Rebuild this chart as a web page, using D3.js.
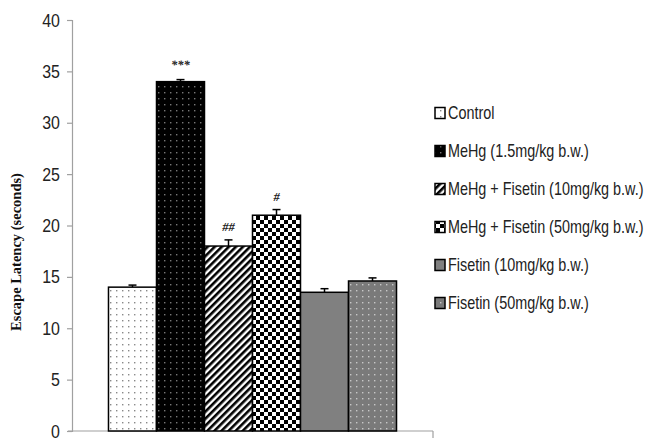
<!DOCTYPE html>
<html><head><meta charset="utf-8">
<script src="https://cdn.jsdelivr.net/npm/d3@7"></script>
<style>body{margin:0;background:#fff}svg{display:block}</style>
</head><body><svg id="c" width="646" height="438"></svg>
<script>
const categories = ["Control","MeHg (1.5mg/kg b.w.)","MeHg + Fisetin (10mg/kg b.w.)","MeHg + Fisetin (50mg/kg b.w.)","Fisetin (10mg/kg b.w.)","Fisetin (50mg/kg b.w.)"];
const values = [14, 34, 18, 21, 13.5, 14.6];
const errors = [0.2, 0.2, 0.6, 0.55, 0.35, 0.3];
const annotations = ["", "***", "##", "#", "", ""];
const yTicks = [0,5,10,15,20,25,30,35,40];
const yTitle = "Escape Latency (seconds)";

const svg = d3.select("#c");
const sans = "'Liberation Sans',Arial,sans-serif";
const serif = "'Liberation Serif','Times New Roman',serif";
const defs = svg.append("defs");
function dotPattern(id, bg, dot){
  const p = defs.append("pattern").attr("id",id).attr("patternUnits","userSpaceOnUse").attr("width",6).attr("height",6);
  p.append("rect").attr("width",6).attr("height",6).attr("fill",bg);
  p.append("rect").attr("x",2).attr("y",2).attr("width",1.4).attr("height",1.4).attr("fill",dot);
}
dotPattern("p0","#fff","#888");
dotPattern("p1","#000","#777");
dotPattern("p5","#7a7a7a","#c8c8c8");
const ph = defs.append("pattern").attr("id","p2").attr("patternUnits","userSpaceOnUse").attr("width",5).attr("height",5).attr("patternTransform","rotate(45)");
ph.append("rect").attr("width",5).attr("height",5).attr("fill","#fff");
ph.append("rect").attr("width",2.6).attr("height",5).attr("fill","#000");
const pc = defs.append("pattern").attr("id","p3").attr("patternUnits","userSpaceOnUse").attr("width",8).attr("height",8);
pc.append("rect").attr("width",8).attr("height",8).attr("fill","#fff");
pc.append("rect").attr("width",4).attr("height",4).attr("fill","#000");
pc.append("rect").attr("x",4).attr("y",4).attr("width",4).attr("height",4).attr("fill","#000");
const p4 = defs.append("pattern").attr("id","p4").attr("patternUnits","userSpaceOnUse").attr("width",6).attr("height",6);
p4.append("rect").attr("width",6).attr("height",6).attr("fill","#808080");
const fills = ["url(#p0)","url(#p1)","url(#p2)","url(#p3)","url(#p4)","url(#p5)"];

const x0 = 72, x1 = 433;
const y = d3.scaleLinear().domain([0,40]).range([431,20]);
const x = d3.scaleBand().domain(categories).range([x0,x1]).paddingInner(0).paddingOuter(0.76);

// y axis
const ya = svg.append("g").attr("transform",`translate(${x0},0)`)
  .call(d3.axisLeft(y).tickValues(yTicks).tickSize(5).tickPadding(7));
ya.select(".domain").attr("stroke","#a0a0a0").attr("stroke-width",1.2);
ya.selectAll(".tick line").attr("stroke","#a0a0a0").attr("stroke-width",1.2);
ya.selectAll(".tick text")
  .attr("font-family",sans).attr("font-size",19).attr("fill","#222")
  .attr("x",-12/0.84).attr("transform","scale(0.84,1)");

// x axis
const xa = svg.append("g").attr("transform",`translate(0,${y(0)})`)
  .call(d3.axisBottom(x).tickSize(0).tickFormat(""));
xa.select(".domain").remove();
svg.append("line").attr("x1",x0-4).attr("x2",x1).attr("y1",y(0)).attr("y2",y(0)).attr("stroke","#a0a0a0").attr("stroke-width",1.2);
svg.append("line").attr("x1",x1).attr("x2",x1).attr("y1",y(0)).attr("y2",y(0)+7).attr("stroke","#a0a0a0").attr("stroke-width",1.2);

// bars
svg.append("g").selectAll("rect").data(categories).join("rect")
  .attr("x",d=>x(d)).attr("width",x.bandwidth())
  .attr("y",(d,i)=>y(values[i])).attr("height",(d,i)=>y(0)-y(values[i]))
  .attr("fill",(d,i)=>fills[i]).attr("stroke","#000").attr("stroke-width",1.5);

// error bars
const eb = svg.append("g").attr("stroke","#000").attr("stroke-width",1.5);
categories.forEach((c,i)=>{
  const cx = x(c)+x.bandwidth()/2;
  eb.append("line").attr("x1",cx).attr("x2",cx).attr("y1",y(values[i])).attr("y2",y(values[i]+errors[i]));
  eb.append("line").attr("x1",cx-4).attr("x2",cx+4).attr("y1",y(values[i]+errors[i])).attr("y2",y(values[i]+errors[i]));
});

// annotations
svg.append("g").selectAll("text").data(categories).join("text")
  .attr("x",d=>x(d)+x.bandwidth()/2)
  .attr("y",(d,i)=>y(values[i]+errors[i])-(i===1?11:9))
  .attr("text-anchor","middle")
  .attr("font-family",serif).attr("font-weight","bold").attr("font-style","italic")
  .attr("font-size",12.5).attr("fill","#222")
  .text((d,i)=>annotations[i]);

// y title
svg.append("text").attr("transform","translate(21,252) rotate(-90)")
  .attr("text-anchor","middle").attr("font-family",serif)
  .attr("font-weight","bold").attr("font-size",14.5).attr("fill","#111").text(yTitle);

// legend
const lg = svg.append("g");
categories.forEach((c,i)=>{
  const cy = 113 + i*38;
  lg.append("rect").attr("x",435).attr("y",cy-5.5).attr("width",10).attr("height",11)
    .attr("fill",fills[i]).attr("stroke","#000").attr("stroke-width",1.5);
  lg.append("text").attr("transform",`translate(448,${cy}) scale(0.8,1)`).attr("dy","0.36em")
    .attr("font-family",sans).attr("font-size",18).attr("fill","#222").text(c);
});
</script></body></html>
